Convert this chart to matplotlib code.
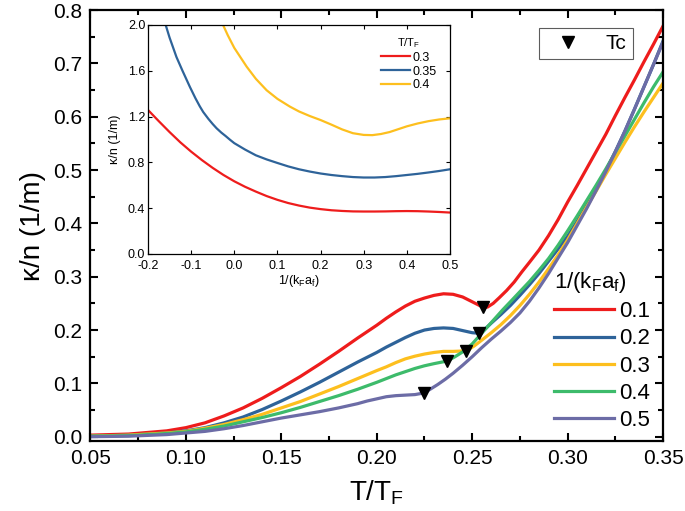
import matplotlib
matplotlib.use("Agg")
import matplotlib.pyplot as plt
from matplotlib.lines import Line2D
from matplotlib.ticker import MultipleLocator, FormatStrFormatter

plt.rcParams['font.family'] = ['Liberation Sans', 'DejaVu Sans']
plt.rcParams['mathtext.default'] = 'regular'

# ---------------- main data ----------------
labels_main = ['0.1', '0.2', '0.3', '0.4', '0.5']
colors_main = ['#ee1c1c', '#2e6399', '#fdbf1e', '#3dbb6b', '#6c6ca6']

T_01 = [0.05, 0.07, 0.09, 0.10, 0.11, 0.12, 0.13, 0.14, 0.15, 0.16, 0.17, 0.18, 0.19, 0.20,
        0.205, 0.21, 0.215, 0.22, 0.225, 0.23, 0.235, 0.24, 0.245, 0.25, 0.2555, 0.258,
        0.261, 0.264, 0.268, 0.272, 0.276, 0.28, 0.285, 0.29, 0.295, 0.30, 0.305, 0.31,
        0.315, 0.32, 0.325, 0.33, 0.335, 0.34, 0.345, 0.35]
k_01 = [0.003, 0.005, 0.011, 0.017, 0.026, 0.039, 0.054, 0.072, 0.092, 0.113, 0.136, 0.160,
        0.185, 0.209, 0.222, 0.234, 0.245, 0.254, 0.260, 0.265, 0.268, 0.267, 0.262, 0.253,
        0.243, 0.243, 0.250, 0.260, 0.274, 0.290, 0.309, 0.327, 0.350, 0.377, 0.407, 0.440,
        0.471, 0.503, 0.535, 0.567, 0.602, 0.636, 0.669, 0.703, 0.736, 0.770]

T_02 = [0.05, 0.07, 0.09, 0.10, 0.11, 0.12, 0.13, 0.14, 0.15, 0.16, 0.17, 0.18, 0.19, 0.20,
        0.205, 0.21, 0.215, 0.22, 0.225, 0.23, 0.235, 0.24, 0.245, 0.25, 0.2535,
        0.257, 0.26, 0.265, 0.27, 0.275, 0.28, 0.285, 0.29, 0.295, 0.30, 0.305, 0.31,
        0.315, 0.32, 0.325, 0.33, 0.335, 0.34, 0.345, 0.35]
k_02 = [0.001, 0.003, 0.007, 0.011, 0.017, 0.026, 0.037, 0.051, 0.067, 0.084, 0.102, 0.121,
        0.140, 0.158, 0.168, 0.177, 0.186, 0.194, 0.200, 0.203, 0.204, 0.203, 0.199, 0.195,
        0.194, 0.203, 0.213, 0.229, 0.246, 0.265, 0.285, 0.306, 0.329, 0.352, 0.376, 0.404,
        0.434, 0.465, 0.499, 0.535, 0.573, 0.614, 0.656, 0.698, 0.742]

T_03 = [0.05, 0.07, 0.09, 0.10, 0.11, 0.12, 0.13, 0.14, 0.15, 0.16, 0.17, 0.18, 0.19, 0.20,
        0.205, 0.21, 0.215, 0.22, 0.225, 0.23, 0.235, 0.24, 0.247, 0.251, 0.255, 0.26,
        0.265, 0.27, 0.275, 0.28, 0.285, 0.29, 0.295, 0.30, 0.305, 0.31, 0.315, 0.32,
        0.325, 0.33, 0.335, 0.34, 0.345, 0.35]
k_03 = [0.001, 0.003, 0.007, 0.010, 0.016, 0.023, 0.032, 0.042, 0.054, 0.066, 0.080, 0.094,
        0.109, 0.124, 0.131, 0.139, 0.146, 0.151, 0.155, 0.158, 0.160, 0.160, 0.161, 0.170,
        0.181, 0.195, 0.210, 0.227, 0.246, 0.267, 0.290, 0.315, 0.341, 0.369, 0.400, 0.431,
        0.461, 0.492, 0.522, 0.552, 0.581, 0.609, 0.636, 0.663]

T_04 = [0.05, 0.07, 0.09, 0.10, 0.11, 0.12, 0.13, 0.14, 0.15, 0.16, 0.17, 0.18, 0.19, 0.20,
        0.205, 0.21, 0.215, 0.22, 0.225, 0.23, 0.237, 0.241, 0.245, 0.25, 0.254, 0.258,
        0.262, 0.266, 0.27, 0.275, 0.28, 0.285, 0.29, 0.295, 0.30, 0.305, 0.31, 0.315,
        0.32, 0.325, 0.33, 0.335, 0.34, 0.345, 0.35]
k_04 = [0.001, 0.002, 0.006, 0.009, 0.014, 0.020, 0.028, 0.036, 0.045, 0.055, 0.066, 0.077,
        0.089, 0.102, 0.109, 0.116, 0.122, 0.128, 0.133, 0.137, 0.142, 0.150, 0.159, 0.174,
        0.190, 0.206, 0.222, 0.238, 0.253, 0.272, 0.291, 0.312, 0.334, 0.359, 0.386, 0.414,
        0.443, 0.472, 0.502, 0.533, 0.564, 0.595, 0.626, 0.656, 0.684]

T_05 = [0.05, 0.07, 0.09, 0.10, 0.11, 0.12, 0.13, 0.14, 0.15, 0.16, 0.17, 0.18, 0.19, 0.195,
        0.20, 0.205, 0.21, 0.215, 0.22, 0.2246, 0.228, 0.232, 0.236, 0.24, 0.245, 0.25,
        0.255, 0.26, 0.265, 0.27, 0.275, 0.28, 0.285, 0.29, 0.295, 0.30, 0.305, 0.31,
        0.315, 0.32, 0.325, 0.33, 0.335, 0.34, 0.345, 0.35]
k_05 = [0.000, 0.001, 0.004, 0.007, 0.010, 0.015, 0.021, 0.028, 0.035, 0.041, 0.047, 0.054,
        0.062, 0.067, 0.071, 0.075, 0.077, 0.078, 0.079, 0.082, 0.089, 0.098, 0.108, 0.119,
        0.134, 0.150, 0.167, 0.183, 0.198, 0.214, 0.232, 0.254, 0.279, 0.306, 0.335, 0.364,
        0.396, 0.428, 0.462, 0.497, 0.534, 0.573, 0.614, 0.656, 0.698, 0.740]

Tc_T = [0.2555, 0.2535, 0.247, 0.237, 0.2246]
Tc_k = [0.243, 0.194, 0.161, 0.142, 0.082]

# ---------------- inset data ----------------
labels_inset = ['0.3', '0.35', '0.4']
colors_inset = ['#ee1c1c', '#2e6399', '#fdbf1e']

x_030 = [-0.2, -0.175, -0.15, -0.125, -0.1, -0.075, -0.05, -0.025, 0.0, 0.025, 0.05, 0.075,
         0.1, 0.125, 0.15, 0.175, 0.2, 0.225, 0.25, 0.275, 0.3, 0.325, 0.35, 0.375, 0.4,
         0.425, 0.45, 0.475, 0.5]
k_030 = [1.258, 1.16, 1.065, 0.975, 0.894, 0.82, 0.752, 0.69, 0.635, 0.587, 0.545, 0.506,
         0.473, 0.445, 0.423, 0.405, 0.392, 0.382, 0.376, 0.372, 0.371, 0.371, 0.372, 0.374,
         0.375, 0.374, 0.371, 0.367, 0.362]

x_035 = [-0.17, -0.159, -0.15, -0.134, -0.12, -0.103, -0.09, -0.08, -0.072, -0.06, -0.05,
         -0.041, -0.03, -0.02, -0.01, 0.0, 0.025, 0.05, 0.075, 0.1, 0.125, 0.15, 0.175, 0.2,
         0.225, 0.25, 0.275, 0.3, 0.325, 0.35, 0.375, 0.4, 0.425, 0.45, 0.475, 0.5]
k_035 = [2.12, 2.0, 1.89, 1.72, 1.60, 1.46, 1.36, 1.29, 1.24, 1.18, 1.135,
         1.098, 1.06, 1.03, 0.998, 0.968, 0.912, 0.862, 0.826, 0.795, 0.765, 0.740, 0.720,
         0.703, 0.690, 0.680, 0.672, 0.668, 0.668, 0.672, 0.680, 0.690, 0.700, 0.712, 0.725,
         0.740]

x_040 = [-0.035, -0.026, -0.015, 0.0, 0.0287, 0.05, 0.075, 0.1, 0.129, 0.15, 0.175, 0.2,
         0.225, 0.25, 0.275, 0.3, 0.32, 0.34, 0.36, 0.38, 0.4, 0.425, 0.45, 0.475, 0.5]
k_040 = [2.08, 2.0, 1.91, 1.80, 1.636, 1.53, 1.43, 1.355, 1.287, 1.245, 1.205, 1.17,
         1.13, 1.088, 1.055, 1.04, 1.038, 1.048, 1.065, 1.09, 1.115, 1.14, 1.16, 1.175, 1.185]

# ---------------- figure ----------------
fig = plt.figure(figsize=(6.85, 5.11), dpi=100)
ax = fig.add_axes([0.132, 0.137, 0.836, 0.8434])

series = [(T_01, k_01), (T_02, k_02), (T_03, k_03), (T_04, k_04), (T_05, k_05)]
handles = []
for i, (T, k) in enumerate(series):
    h, = ax.plot(T, k, color=colors_main[i], lw=2.3, label=labels_main[i],
                 solid_joinstyle='round')
    handles.append(h)
ax.plot(Tc_T, Tc_k, ls='none', marker='v', color='k', ms=8, zorder=5)

ax.set_xlim(0.05, 0.35)
ax.set_ylim(-0.008, 0.8)
ax.xaxis.set_major_locator(MultipleLocator(0.05))
ax.xaxis.set_minor_locator(MultipleLocator(0.025))
ax.yaxis.set_major_locator(MultipleLocator(0.1))
ax.yaxis.set_minor_locator(MultipleLocator(0.05))
ax.xaxis.set_major_formatter(FormatStrFormatter('%.2f'))
ax.yaxis.set_major_formatter(FormatStrFormatter('%.1f'))
ax.tick_params(which='both', direction='in', top=True, right=True, width=1.5, labelsize=15)
ax.tick_params(which='major', length=6, pad=6)
ax.tick_params(which='minor', length=3.5)
for s in ax.spines.values():
    s.set_linewidth(1.6)
ax.set_xlabel(r'T/T$_\mathregular{F}$', fontsize=20, labelpad=7)
ax.set_ylabel('κ/n (1/m)', fontsize=20, labelpad=5)

leg1 = ax.legend(handles=handles, title=r'1/(k$_\mathregular{F}$a$_\mathregular{f}$)',
                 loc='upper left', bbox_to_anchor=(554 / 685, 1 - 270 / 511),
                 bbox_transform=fig.transFigure, frameon=False, fontsize=16,
                 title_fontsize=16, handlelength=2.7, handletextpad=0.25,
                 labelspacing=0.28, borderpad=0, borderaxespad=0, alignment='left')
ax.add_artist(leg1)

tc_handle = Line2D([], [], ls='none', marker='v', color='k', ms=8)
leg2 = ax.legend([tc_handle], ['Tc'], loc='upper left',
                 bbox_to_anchor=(539 / 685, 1 - 28 / 511), bbox_transform=fig.transFigure,
                 frameon=True, fancybox=False, edgecolor='#333333', fontsize=15,
                 handlelength=2.2, handletextpad=0.7, borderpad=0.3, borderaxespad=0)
leg2.get_frame().set_linewidth(0.8)

# ---------------- inset ----------------
axi = fig.add_axes([148 / 685, 1 - 254 / 511, 302 / 685, 229 / 511])
inset_series = [(x_030, k_030), (x_035, k_035), (x_040, k_040)]
ih = []
for i, (x, k) in enumerate(inset_series):
    h, = axi.plot(x, k, color=colors_inset[i], lw=1.6, label=labels_inset[i],
                  solid_joinstyle='round')
    ih.append(h)
axi.set_xlim(-0.2, 0.5)
axi.set_ylim(0.0, 2.0)
axi.xaxis.set_major_locator(MultipleLocator(0.1))
axi.yaxis.set_major_locator(MultipleLocator(0.4))
axi.xaxis.set_major_formatter(FormatStrFormatter('%.1f'))
axi.yaxis.set_major_formatter(FormatStrFormatter('%.1f'))
axi.tick_params(which='both', direction='in', top=True, right=True, length=3, width=0.8,
                labelsize=9)
axi.tick_params(axis='x', pad=4)
axi.tick_params(axis='y', pad=2)
for s in axi.spines.values():
    s.set_linewidth(0.9)
axi.set_xlabel(r'1/(k$_\mathregular{F}$a$_\mathregular{f}$)', fontsize=9, labelpad=1)
axi.set_ylabel('κ/n (1/m)', fontsize=9, labelpad=5)
axi.legend(handles=ih, title=r'T/T$_\mathregular{F}$', loc='upper left',
           bbox_to_anchor=(381 / 685, 1 - 36 / 511), bbox_transform=fig.transFigure,
           frameon=False, fontsize=9, title_fontsize=8, handlelength=2.3,
           handletextpad=0.2, labelspacing=0.15, borderpad=0, borderaxespad=0)

fig.savefig('out.png', dpi=100)
